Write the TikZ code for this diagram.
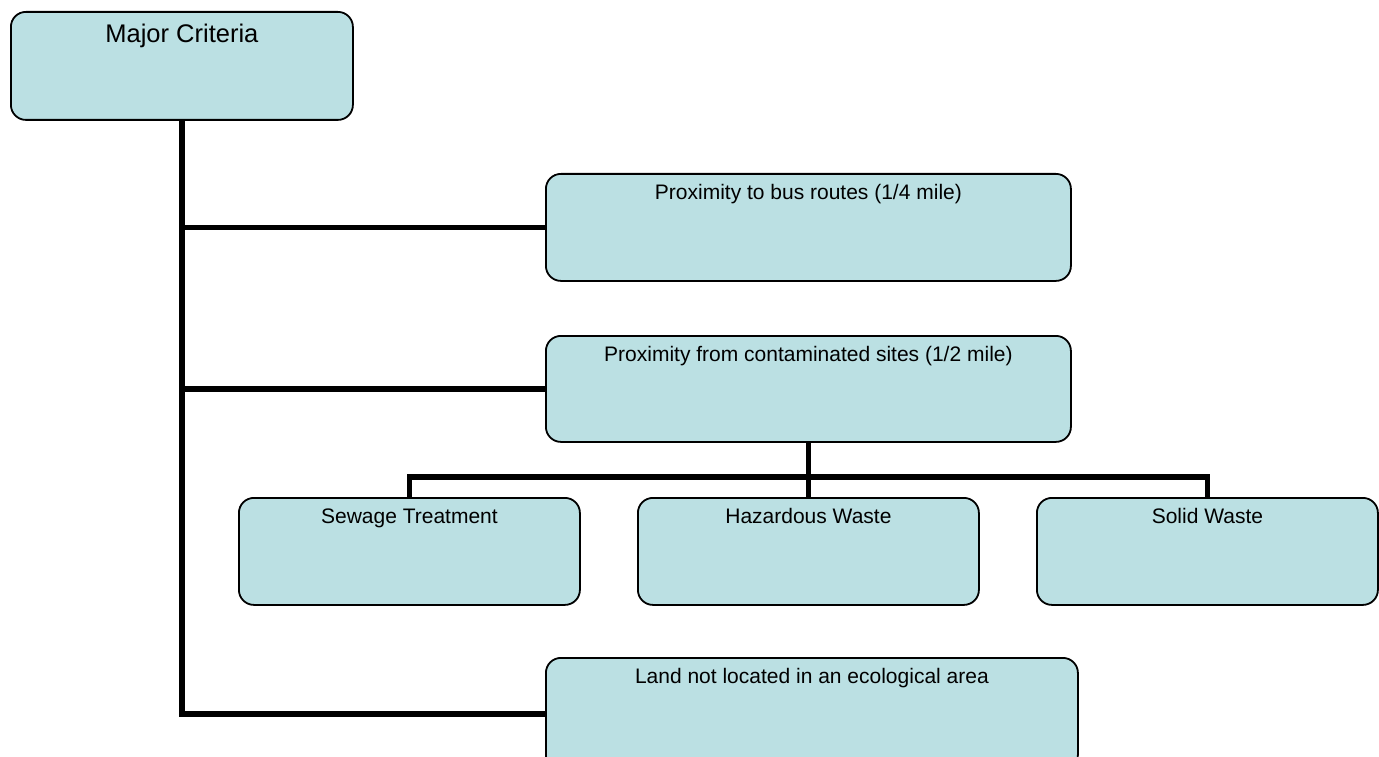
\documentclass[tikz,border=0pt]{standalone}
\usepackage{fontspec}
\setmainfont{Liberation Sans}
\usetikzlibrary{backgrounds}
\definecolor{boxfill}{RGB}{187,224,227}
\tikzset{
  critbox/.style={draw=black, line width=1.8pt, fill=boxfill, rounded corners=15pt,
    inner sep=0pt, anchor=north west, font=\fontsize{21}{25}\selectfont,
    text height=26pt},
  link/.style={draw=black, line width=5.5pt, line join=miter}
}
\begin{document}
\begin{tikzpicture}[x=1pt,y=-1pt]
\useasboundingbox (0,0) rectangle (1379,757);
\node[critbox, minimum width=342pt, text depth=77pt, text height=31pt,
      font=\fontsize{25.5}{30}\selectfont] (major) at (10,11) {Major Criteria};
\node[critbox, minimum width=525pt, text depth=81pt] (bus) at (545,173) {Proximity to bus routes (1/4 mile)};
\node[critbox, minimum width=525pt, text depth=80pt] (contam) at (545,335) {Proximity from contaminated sites (1/2 mile)};
\node[critbox, minimum width=341pt, text depth=81pt] (sewage) at (238,497) {Sewage Treatment};
\node[critbox, minimum width=341pt, text depth=81pt] (hazard) at (637,497) {Hazardous Waste};
\node[critbox, minimum width=341pt, text depth=81pt] (solid) at (1036,497) {Solid Waste};
\node[critbox, minimum width=532pt, text depth=86pt] (land) at (545,657) {Land not located in an ecological area};
\coordinate (bar) at (contam.south |- 0,477);
\begin{pgfonlayer}{background}
\draw[link] (major.south) |- (bus.west);
\draw[link] (major.south) |- (contam.west);
\draw[link] (major.south) |- (land.west);
\draw[link] (contam.south) -- (hazard.north);
\draw[link] (sewage.north) |- (bar) -| (solid.north);
\end{pgfonlayer}
\end{tikzpicture}
\end{document}
